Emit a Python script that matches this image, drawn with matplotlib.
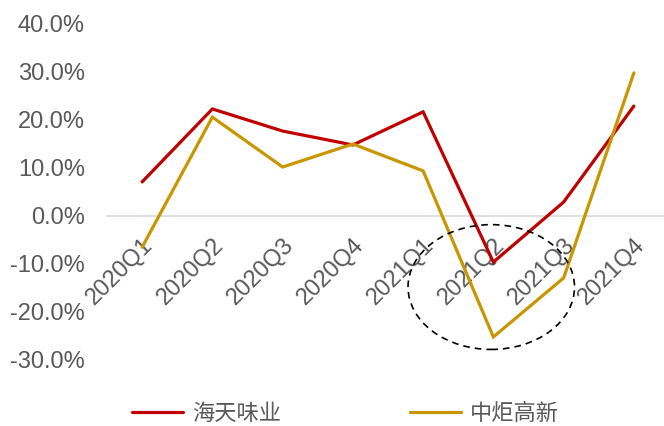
import matplotlib
matplotlib.use("Agg")
import matplotlib.pyplot as plt
from matplotlib.patches import Ellipse
from matplotlib.ticker import PercentFormatter

quarters = ["2020Q1", "2020Q2", "2020Q3", "2020Q4",
            "2021Q1", "2021Q2", "2021Q3", "2021Q4"]
haitian = [7.1, 22.3, 17.7, 14.8, 21.7, -9.6, 2.9, 22.9]
zhongju = [-6.5, 20.6, 10.2, 15.0, 9.4, -25.2, -12.9, 29.8]

RED = "#C00000"
GOLD = "#C89600"
GREY = "#595959"

plt.rcParams["axes.unicode_minus"] = False

fig = plt.figure(figsize=(6.64, 4.26), dpi=100)
ax = fig.add_axes([107 / 664, 1 - 360 / 426, 562 / 664, 336 / 426])

x = list(range(len(quarters)))
ax.plot(x, haitian, color=RED, lw=2.3, solid_capstyle="round",
        solid_joinstyle="miter", label="海天味业", zorder=3)
ax.plot(x, zhongju, color=GOLD, lw=2.3, solid_capstyle="round",
        solid_joinstyle="miter", label="中炬高新", zorder=3)

ax.set_xlim(-0.5, 7.5)
ax.set_ylim(-30, 40)
ax.set_yticks(range(-30, 41, 10))
ax.yaxis.set_major_formatter(PercentFormatter(decimals=1))

# zero line carries the category labels
for side in ("top", "right", "left"):
    ax.spines[side].set_visible(False)
ax.spines["bottom"].set_position(("data", 0))
ax.spines["bottom"].set_color("#D9D9D9")
ax.spines["bottom"].set_linewidth(1.2)

ax.set_xticks(x)
ax.set_xticklabels(quarters, rotation=45, ha="right", va="top",
                   rotation_mode="anchor")
ax.tick_params(axis="x", length=0, pad=13, labelsize=17, labelcolor=GREY)
ax.tick_params(axis="y", length=0, pad=16, labelsize=17, labelcolor=GREY)
for lab in ax.get_xticklabels() + ax.get_yticklabels():
    lab.set_family("Liberation Sans")

# dashed ring around the 2021Q2-Q3 dip
ax.add_patch(Ellipse((4.97, -14.8), 2.37, 26.0, fill=False, ls=(0, (4, 3)),
                     lw=1.2, ec="black", zorder=4, clip_on=False))

leg = fig.legend(loc="center", bbox_to_anchor=(0.52, 1 - 413 / 426), ncol=2,
                 frameon=False, handlelength=2.3, columnspacing=5.8,
                 handletextpad=0.4,
                 prop={"family": "Noto Sans CJK SC", "size": 16})
for t in leg.get_texts():
    t.set_color(GREY)

fig.savefig("out.png", dpi=100)
